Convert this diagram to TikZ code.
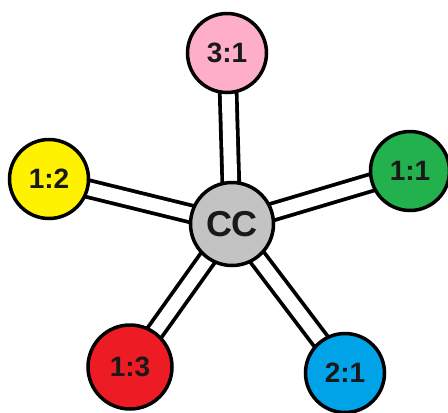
\documentclass[tikz,border=0pt]{standalone}
\usepackage{fontspec}
\setmainfont{Liberation Sans}
\usetikzlibrary{backgrounds}
\definecolor{cpink}{RGB}{255,174,201}
\definecolor{cyellow}{RGB}{255,242,0}
\definecolor{cgreen}{RGB}{34,177,76}
\definecolor{cred}{RGB}{237,28,36}
\definecolor{cblue}{RGB}{0,162,232}
\definecolor{cgray}{RGB}{195,195,195}
\definecolor{ink}{RGB}{25,25,25}
\begin{document}
\begin{tikzpicture}[x=1pt,y=-1pt,
  ball/.style={circle, draw=black, line width=3.5pt, minimum size=79pt, inner sep=0pt,
    font=\bfseries\fontsize{28}{28}\selectfont, text=ink},
  hub/.style={ball, minimum size=83pt, font=\bfseries\fontsize{36}{36}\selectfont},
  link/.style={draw=black, line width=3.8pt, double=white, double distance=13pt}]
\useasboundingbox (0,0) rectangle (448,413);
% the hub and its five discs
\node[hub, fill=cgray]    (cc)    at (232,224) {CC};
\node[ball, fill=cpink]   (top)   at (227,53)  {3:1};
\node[ball, fill=cyellow] (left)  at (49,179)  {1:2};
\node[ball, fill=cgreen]  (right) at (410,171) {1:1};
\node[ball, fill=cred, minimum size=84pt] (bl) at (130,367) {1:3};
\node[ball, fill=cblue]   (br)    at (345,373) {2:1};
% double-line spokes, kept behind the discs
\begin{scope}[on background layer]
  \foreach \n in {top,left,right,bl,br}
    \path[link] (cc.center) -- (\n.center);
\end{scope}
\end{tikzpicture}
\end{document}
